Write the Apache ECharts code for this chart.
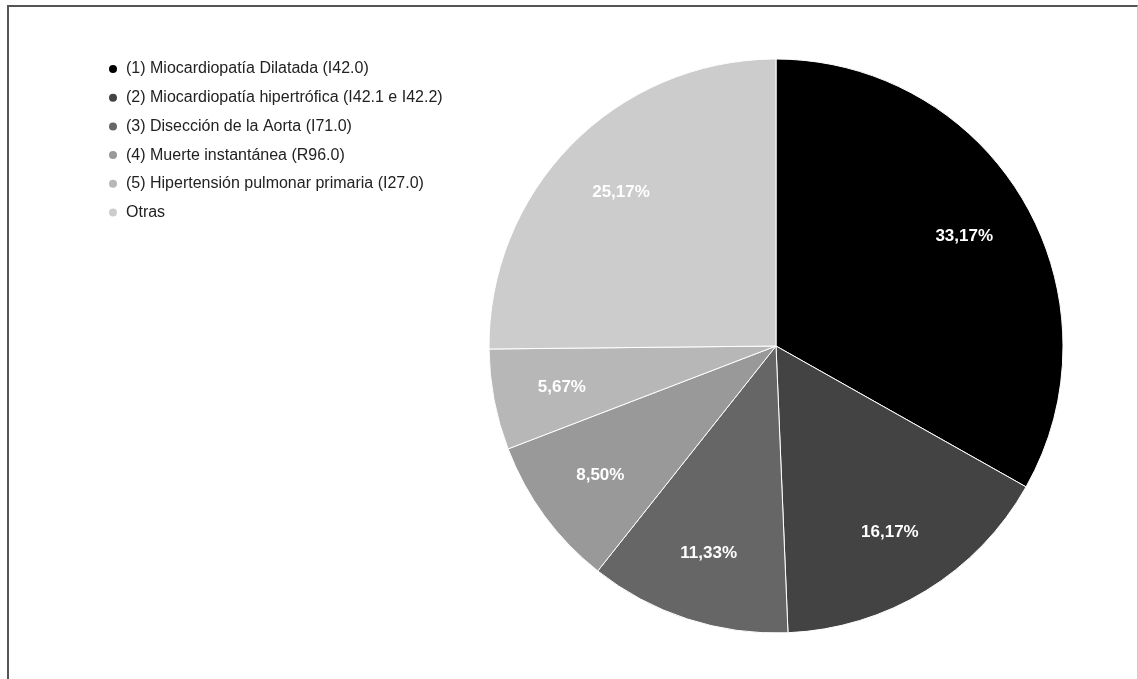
<!DOCTYPE html>
<html>
<head>
<meta charset="utf-8">
<script src="https://cdn.jsdelivr.net/npm/echarts@6/dist/echarts.min.js"></script>
<style>
  html, body { margin: 0; padding: 0; background: #fff; }
  #chart { position: absolute; left: 0; top: 0; width: 1138px; height: 679px; }
  #frame { position: absolute; left: 7px; top: 5px; width: 1128px; height: 700px;
           border-left: 2px solid #555; border-top: 2px solid #555; border-right: 1px solid #ccc; pointer-events: none; }
</style>
</head>
<body>
<div id="chart"></div>
<div id="frame"></div>
<script>
const categories = [
  "(1) Miocardiopatía Dilatada (I42.0)",
  "(2) Miocardiopatía hipertrófica (I42.1 e I42.2)",
  "(3) Disección de la Aorta (I71.0)",
  "(4) Muerte instantánea (R96.0)",
  "(5) Hipertensión pulmonar primaria (I27.0)",
  "Otras"
];
const values = [33.17, 16.17, 11.33, 8.50, 5.67, 25.17];
const colors = ["#000000", "#434343", "#666666", "#999999", "#b7b7b7", "#cccccc"];

const data = categories.map((c, i) => ({ name: c, value: values[i], itemStyle: { color: colors[i] } }));
const labelData = categories.map((c, i) => ({ name: c, value: values[i] }));

const chart = echarts.init(document.getElementById('chart'), null, { renderer: 'canvas' });
chart.setOption({
  animation: false,
  backgroundColor: '#ffffff',
  legend: {
    orient: 'vertical',
    left: 102,
    top: 55,
    padding: 5,
    icon: 'circle',
    itemWidth: 16,
    itemHeight: 10,
    itemGap: 10.7,
    data: categories,
    textStyle: { fontFamily: 'Liberation Sans, Arial, sans-serif', fontSize: 16, color: '#222222', lineHeight: 18 }
  },
  series: [
    {
      type: 'pie',
      center: [776, 346],
      radius: [0, 287],
      startAngle: 90,
      clockwise: true,
      data: data,
      label: { show: false },
      labelLine: { show: false },
      itemStyle: { borderColor: '#ffffff', borderWidth: 1 },
      emphasis: { disabled: true }
    },
    {
      type: 'pie',
      center: [776, 346],
      radius: [143, 287],
      startAngle: 90,
      clockwise: true,
      silent: true,
      data: labelData,
      itemStyle: { color: 'rgba(0,0,0,0)', borderWidth: 0 },
      label: {
        show: true,
        position: 'inside',
        color: '#ffffff',
        fontFamily: 'Liberation Sans, Arial, sans-serif',
        fontWeight: 'bold',
        fontSize: 17,
        formatter: p => values[p.dataIndex].toFixed(2).replace('.', ',') + '%'
      },
      labelLine: { show: false },
      emphasis: { disabled: true }
    }
  ]
});
</script>
</body>
</html>
